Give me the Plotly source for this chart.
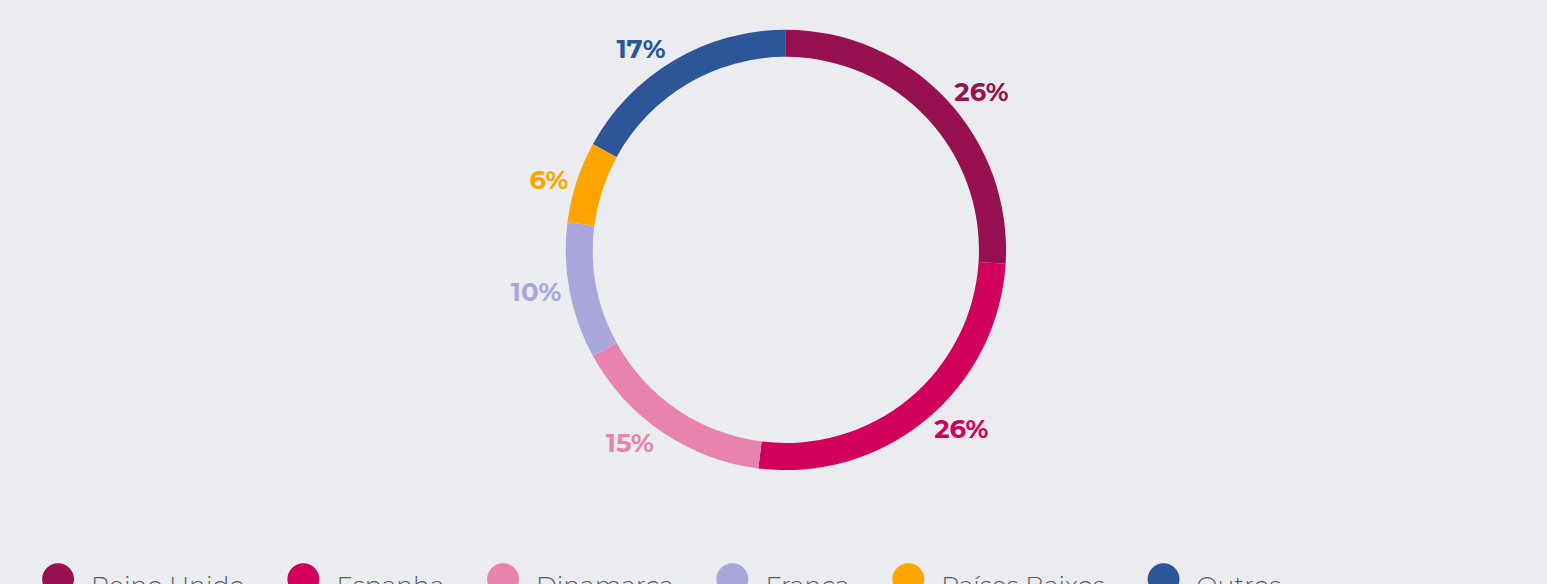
import plotly.graph_objects as go

categories = ["Reino Unido", "Espanha", "Dinamarca", "França", "Países Baixos", "Outros"]
values = [26, 26, 15, 10, 6, 17]
colors = ["#97104f", "#d1005a", "#e883ae", "#a9a6db", "#ffa400", "#2c5697"]

BG = "#ebecf0"
FONT = "Montserrat, 'Open Sans', Lato, sans-serif"

fig = go.Figure()

fig.add_trace(go.Pie(
    labels=categories,
    values=values,
    sort=False,
    direction="clockwise",
    rotation=0,
    hole=0.877,
    marker=dict(colors=colors, line=dict(width=0)),
    texttemplate="%{percent:.0%}",
    textposition="outside",
    textfont=dict(family=FONT, size=26, color=colors, weight=700),
    showlegend=False,
    hoverinfo="label+percent",
    domain=dict(x=[0.215, 0.801], y=[0.195, 0.949]),
))

# legend row built as text: coloured dot glyph + category name
gap = "\u00a0" * 6
legend_text = gap.join(
    f'<sub><span style="color:{c};font-size:67px">●</span></sub>\u00a0\u00a0{n}'
    for n, c in zip(categories, colors)
)
fig.add_annotation(
    text=legend_text,
    xref="paper", yref="paper",
    x=0.0235, xanchor="left",
    y=0.0890, yanchor="top",
    showarrow=False,
    align="left",
    font=dict(family=FONT, size=25, color="#5b5b5b", weight=300),
)

fig.update_layout(
    width=1547, height=584,
    paper_bgcolor=BG, plot_bgcolor=BG,
    margin=dict(l=0, r=0, t=0, b=0),
    showlegend=False,
)

fig.write_html(
    "out.html",
    config={"displayModeBar": False},
    post_script="document.body.style.margin='0';document.body.style.background='#ebecf0';",
)
